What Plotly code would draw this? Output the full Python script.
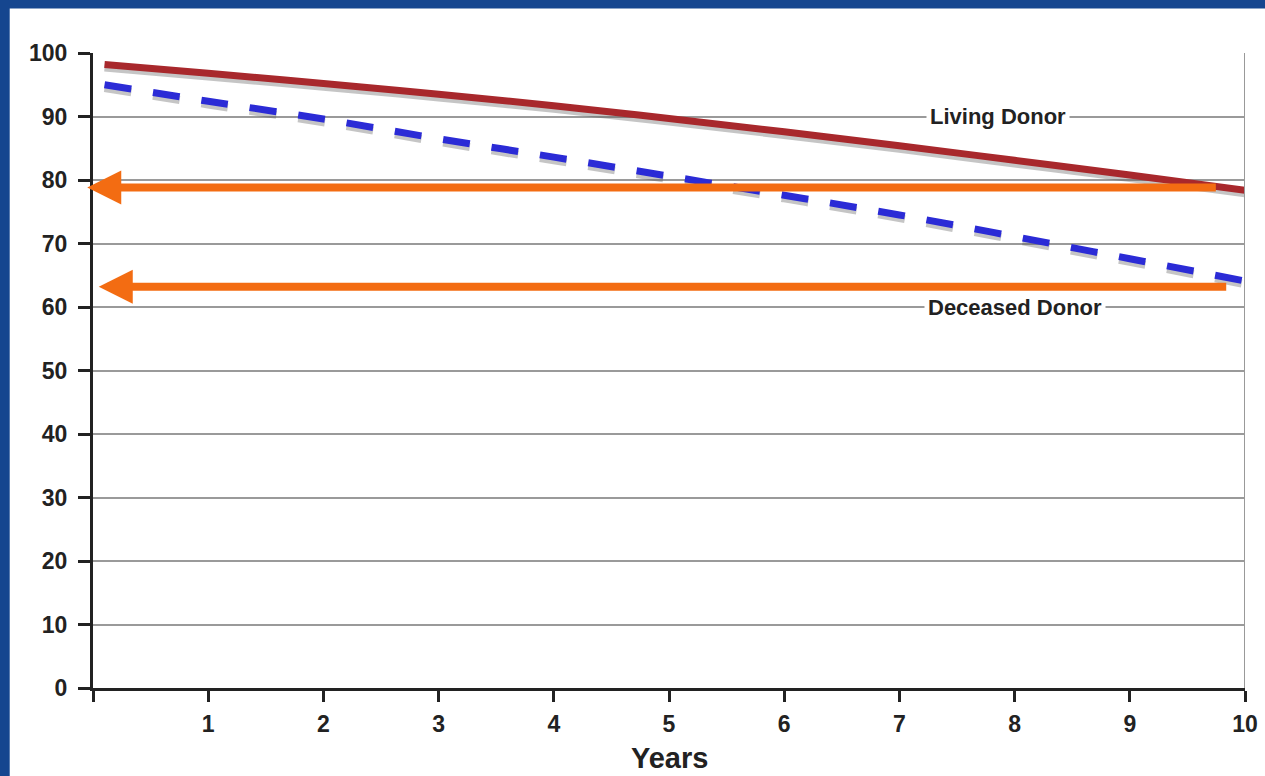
import plotly.graph_objects as go

# ---- data ----
living_years = [0.1, 1, 2, 3, 4, 5, 6, 7, 8, 9, 10]
living_vals = [98.2, 96.8, 95.2, 93.5, 91.7, 89.7, 87.6, 85.4, 83.1, 80.8, 78.4]

deceased_years = [0.1, 1, 2, 3, 4, 5, 6, 7, 8, 9, 10]
deceased_vals = [95.0, 92.4, 89.6, 86.5, 83.6, 80.6, 77.6, 74.5, 71.1, 67.6, 64.1]

arrow_levels = [78.8, 63.2]
arrow_tails = [9.76, 9.85]
arrow_tips = [-0.05, 0.05]

x_ticks = [0, 1, 2, 3, 4, 5, 6, 7, 8, 9, 10]
x_ticktext = ["", "1", "2", "3", "4", "5", "6", "7", "8", "9", "10"]
y_ticks = [0, 10, 20, 30, 40, 50, 60, 70, 80, 90, 100]

labels = ["Living Donor", "Deceased Donor"]
label_x = [7.86, 8.0]
label_y = [90, 60]

x_title = "Years"

FONT = "Liberation Sans, Arial, sans-serif"
DASH = "27px,22px"

fig = go.Figure()

# shadows
fig.add_trace(go.Scatter(x=living_years, y=[v - 0.5 for v in living_vals], mode="lines",
                         line=dict(color="rgba(90,90,90,0.35)", width=8, shape="spline"),
                         hoverinfo="skip", showlegend=False))
fig.add_trace(go.Scatter(x=deceased_years, y=[v - 0.5 for v in deceased_vals], mode="lines",
                         line=dict(color="rgba(90,90,90,0.35)", width=8, dash=DASH, shape="spline"),
                         hoverinfo="skip", showlegend=False))

fig.add_trace(go.Scatter(x=living_years, y=living_vals, mode="lines",
                         line=dict(color="#a8282c", width=7, shape="spline"),
                         name="Living Donor", showlegend=False))
fig.add_trace(go.Scatter(x=deceased_years, y=deceased_vals, mode="lines",
                         line=dict(color="#2b2bd6", width=7, dash=DASH, shape="spline"),
                         name="Deceased Donor", showlegend=False))

# orange arrows
for lvl, tail, tip in zip(arrow_levels, arrow_tails, arrow_tips):
    fig.add_annotation(x=tip, y=lvl, ax=tail, ay=lvl, xref="x", yref="y",
                       axref="x", ayref="y", text="", showarrow=True,
                       arrowhead=2, arrowsize=0.85, arrowwidth=8, arrowcolor="#f36c12")

# series labels
for t, lx, ly in zip(labels, label_x, label_y):
    fig.add_annotation(x=lx, y=ly, xref="x", yref="y", text=t, showarrow=False,
                       font=dict(family=FONT, size=22, color="#222222", weight="bold"),
                       bgcolor="white", borderpad=3)

# x axis title
fig.add_annotation(x=0.5, y=-0.111, xref="paper", yref="paper", text=x_title, showarrow=False,
                   xanchor="center", yanchor="middle",
                   font=dict(family=FONT, size=29, color="#222222", weight="bold"))

# white panel & right border
fig.add_shape(type="rect", xref="paper", yref="paper", x0=-0.0723, x1=1.1, y0=-0.3, y1=1.07,
              layer="below", line=dict(width=0), fillcolor="white")
fig.add_shape(type="line", xref="x", yref="y", x0=10, x1=10, y0=0, y1=100,
              line=dict(color="#999999", width=2))

fig.update_layout(
    width=1265, height=776,
    paper_bgcolor="#15468f", plot_bgcolor="white",
    margin=dict(l=93, r=20, t=53, b=88, autoexpand=False),
    font=dict(family=FONT, color="#222222"),
    showlegend=False,
)
fig.update_xaxes(range=[0, 10], tickvals=x_ticks, ticktext=x_ticktext, automargin=False,
                 showgrid=False, zeroline=False, showline=True, linecolor="#222222", linewidth=3,
                 ticks="outside", ticklen=11, tickwidth=3, tickcolor="#222222",
                 ticklabelstandoff=2,
                 tickfont=dict(family=FONT, size=23, weight="bold", color="#222222"))
fig.update_yaxes(range=[0, 100], tickvals=y_ticks, automargin=False,
                 showgrid=True, gridcolor="#9a9a9a", gridwidth=2, zeroline=False,
                 showline=True, linecolor="#222222", linewidth=3,
                 ticks="outside", ticklen=12, tickwidth=3, tickcolor="#222222",
                 ticklabelstandoff=6,
                 tickfont=dict(family=FONT, size=23, weight="bold", color="#222222"))

fig.write_html("out.html")
